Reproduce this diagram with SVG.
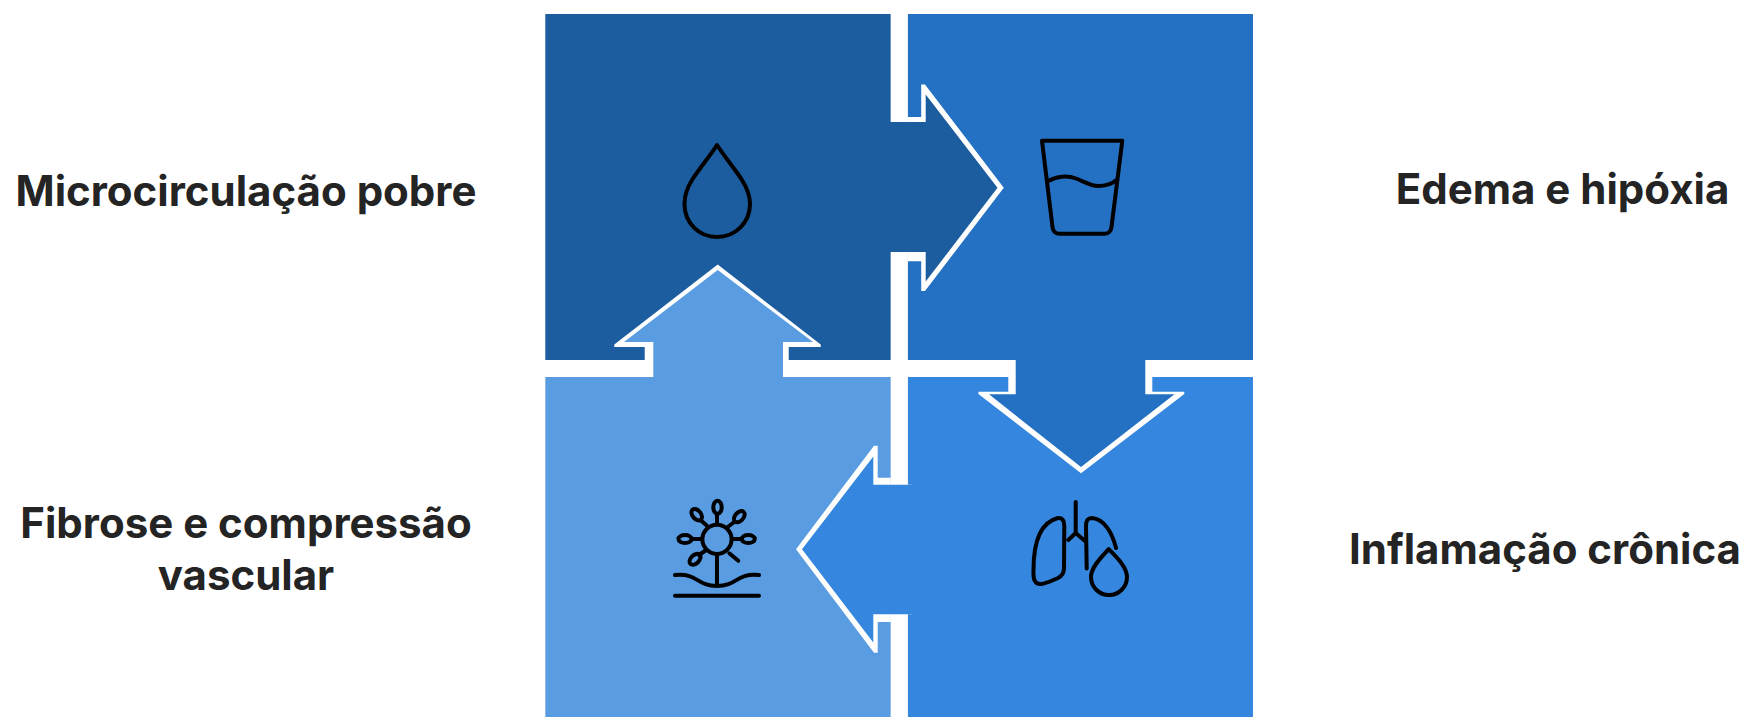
<svg xmlns="http://www.w3.org/2000/svg" width="1751" height="717" viewBox="0 0 1751 717">
<style>
.lbl{font-family:Inter,"Liberation Sans",sans-serif;font-weight:700;font-size:42px;fill:#242424;text-anchor:middle}
.ic{fill:none;stroke:#000;stroke-width:4;stroke-linecap:round;stroke-linejoin:round}
.w{fill:#fff}
.dark{fill:#1c5d9f}.blue{fill:#2470c3}.bright{fill:#3586de}.light{fill:#5a9ce2}
</style>
<rect width="1751" height="717" fill="#fff"/>
<g id="tile-microcirculacao"><rect class="dark" x="545.3" y="14" width="345.5" height="346"/></g>
<g id="tile-edema"><rect class="blue" x="907.7" y="14" width="345.3" height="346"/></g>
<g id="tile-fibrose"><rect class="light" x="545.3" y="377" width="345.5" height="340"/></g>
<g id="tile-inflamacao"><rect class="bright" x="907.7" y="377" width="345.3" height="340"/></g>
<g id="connectors">
<rect x="890.8" y="14" width="16.9" height="108" fill="#fff"/>
<rect x="890.8" y="252" width="16.9" height="233" fill="#fff"/>
<rect x="890.8" y="614.3" width="16.9" height="103" fill="#fff"/>
<rect x="545.3" y="360" width="108" height="17" fill="#fff"/>
<rect x="783" y="360" width="232.7" height="17" fill="#fff"/>
<rect x="1145.3" y="360" width="107.7" height="17" fill="#fff"/>
<polygon class="w" points="907.7,117 921.2,117 921.2,84.5 925,84.5 1003.8,187.7 925,291 921.2,291 921.2,261.3 907.7,261.3 907.7,252 885,252 885,122 907.7,122"/>
<polygon class="dark" points="880,122 925.7,122 925.7,94.5 997.5,187.7 925.7,281.5 925.7,252 880,252"/>
<polygon class="w" points="644.7,360 644.7,347 614.3,347 614.3,344.5 717.7,264.5 820.7,344.5 820.7,347 788.7,347 788.7,360"/>
<polygon class="light" points="653.3,385 653.3,342 624,342 717.7,270 813,342 783,342 783,385"/>
<polygon class="w" points="1008.3,377 1008.3,391.7 978.4,391.7 978.4,394 1081,473.3 1184.3,394 1184.3,391.7 1152.3,391.7 1152.3,377"/>
<polygon class="blue" points="1015.7,350 1015.7,394.3 989,394.3 1081,467 1174.5,394.3 1145.3,394.3 1145.3,350"/>
<polygon class="w" points="890.8,477.7 877.7,477.7 877.7,445.7 874,445.7 796,549.3 874,652.7 877.7,652.7 877.7,622 890.8,622 890.8,614.3 912,614.3 912,484.7 890.8,484.7"/>
<polygon class="bright" points="916,484.7 873.3,484.7 873.3,456.5 802,549.3 873.3,642.5 873.3,614.3 916,614.3"/>
</g>
<g id="icon-drop"><path class="ic" d="M717 145C710 156 699 169 692 180C687 188 684.5 196 684.5 204C684.5 223 699 237 717 237C735 237 750 223 750 204C750 196 747 188 742 180C735 169 724 156 717 145Z"/></g>
<g id="icon-glass"><path class="ic" d="M1042 140.7H1122.3L1111.5 227C1111 231 1108.5 233.7 1105 233.7H1059C1055.5 233.7 1053 231 1052.5 227Z"/><path class="ic" d="M1049.5 180.5C1056 176.5 1067 175 1076 178.5C1085 182 1091 186 1098 186C1105 186 1112 184 1116.5 180"/></g>
<g id="icon-lungs"><path class="ic" d="M1075.7 502V533M1068.3 540L1075.7 533L1085 541M1086.7 568.5L1086 526C1086 520 1088 518 1092 518C1104 519 1112 532 1116 548"/><path class="ic" d="M1064.3 526C1064.3 520 1062 517.7 1058 518C1042 522 1033.5 540 1033.5 570C1033 580 1035 584.5 1041 584C1047 583.5 1053 580 1058 578C1062 576 1064 573 1064 568Z"/><path class="ic" d="M1108.7 549C1104 555 1091 566 1091 577C1091 587 1099 595 1109 595C1119 595 1127 587 1127 577C1127 566 1114 555 1108.7 549Z"/></g>
<g id="icon-fibrosis"><circle class="ic" cx="717" cy="539.3" r="14.6"/><ellipse class="ic" cx="717.5" cy="507.3" rx="4.2" ry="6.5"/><ellipse class="ic" cx="685" cy="539" rx="6.5" ry="4"/><ellipse class="ic" cx="748.3" cy="539" rx="6.5" ry="4"/><ellipse class="ic" cx="696.7" cy="514.7" rx="4.2" ry="6.5" transform="rotate(-40 696.7 514.7)"/><ellipse class="ic" cx="739.3" cy="516.7" rx="4.2" ry="6.5" transform="rotate(42 739.3 516.7)"/><ellipse class="ic" cx="695" cy="559.3" rx="4.2" ry="6.5" transform="rotate(45 695 559.3)"/><path class="ic" d="M717 514V524M691.5 539H702M732 539H742M700.5 520L706.7 525.5M735 521.5L728.3 526.5M699 555L705.5 550.5M729.3 553.3L738.3 560.7M717 554V586M675 575C699 573 696 586 717 586C738 586 735 573 759 575M675 595.7H759"/></g>
<g id="label-microcirculacao"><text class="lbl" x="246" y="206">Microcirculação pobre</text></g>
<g id="label-edema"><text class="lbl" x="1562.5" y="204">Edema e hipóxia</text></g>
<g id="label-fibrose"><text class="lbl" x="246" y="538">Fibrose e compressão</text><text class="lbl" x="246" y="590">vascular</text></g>
<g id="label-inflamacao"><text class="lbl" x="1545" y="564">Inflamação crônica</text></g>
</svg>
